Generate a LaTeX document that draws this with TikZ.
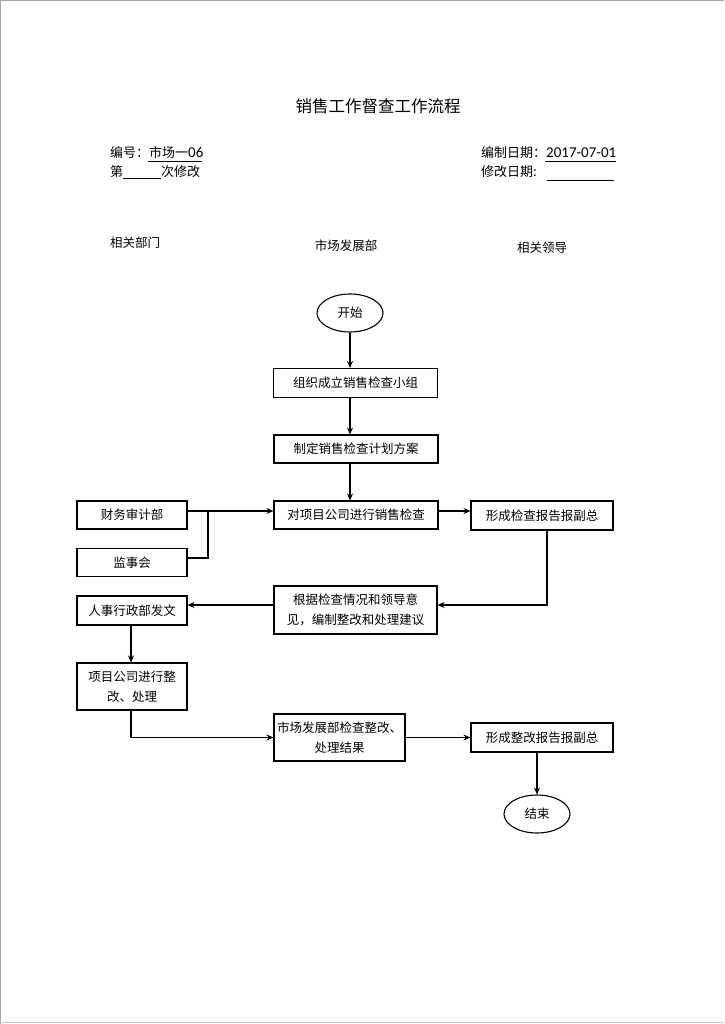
\documentclass[tikz,border=0pt]{standalone}
\usepackage{fontspec}
\setmainfont{Carlito}
\newfontfamily\cjk{Noto Sans CJK SC}
\usetikzlibrary{arrows.meta,shapes.geometric}
\begin{document}
\begin{tikzpicture}[x=1pt,y=-1pt,
  every node/.style={font=\cjk\fontsize{12.5}{20}\selectfont, inner sep=0pt},
  box/.style={draw, line width=1.1pt, rectangle, align=center},
  term/.style={draw, line width=1.1pt, ellipse, minimum width=66pt, minimum height=38pt},
  conn/.style={line width=1.1pt, -{Stealth[length=7pt,width=6pt]}},
  plainline/.style={line width=1.1pt},
  hdr/.style={font=\cjk\fontsize{13}{16}\selectfont, anchor=west}
]
\useasboundingbox (0,0) rectangle (724,1024);
\fill[white] (0,0) rectangle (724,1024);
\draw[gray!70, line width=1pt] (0.5,1024) -- (0.5,0.5) -- (724,0.5);
\draw[gray!45, line width=1pt] (0,1022.5) -- (724,1022.5);

% title and header
\node[font=\cjk\fontsize{16.5}{20}\selectfont] (title) at (378,106) {销售工作督查工作流程};
\node[hdr] (bh) at (110,153) {编号：市场一{\rmfamily\fontsize{15}{16}\selectfont 06}};
\draw[line width=0.7pt] (148,161.5) -- (202,161.5);
\node[hdr] (xg) at (110,172) {第\rule[-2.5pt]{38pt}{0.7pt}次修改};
\node[hdr] (bz) at (481,153) {编制日期：{\rmfamily\fontsize{15}{16}\selectfont 2017-07-01}};
\draw[line width=0.7pt] (545,161.5) -- (616,161.5);
\node[hdr] (xr) at (481,172) {修改日期:};
\draw[line width=0.7pt] (547,180.5) -- (614,180.5);

% lane headers
\node (h1) at (135,243) {相关部门};
\node (h2) at (346,246) {市场发展部};
\node (h3) at (542,248) {相关领导};

% nodes
\node[term] (start) at (350,313) {开始};
\node[box, minimum width=164pt, minimum height=29pt] (b1) at (355.5,383) {组织成立销售检查小组};
\node[box, minimum width=164pt, minimum height=28pt] (b2) at (356,449) {制定销售检查计划方案};
\node[box, minimum width=164pt, minimum height=28pt] (b3) at (356,515) {对项目公司进行销售检查};
\node[box, minimum width=110pt, minimum height=28pt] (cw) at (132,515) {财务审计部};
\node[box, minimum width=110pt, minimum height=28pt] (js) at (132,562.5) {监事会};
\node[box, minimum width=142pt, minimum height=29pt] (r1) at (542,515.5) {形成检查报告报副总};
\node[box, minimum width=163pt, minimum height=48pt] (b4) at (355.5,610) {根据检查情况和领导意\\见，编制整改和处理建议};
\node[box, minimum width=110pt, minimum height=29pt] (l3) at (132,610.5) {人事行政部发文};
\node[box, minimum width=110pt, minimum height=47pt] (l4) at (132,686.5) {项目公司进行整\\改、处理};
\node[box, minimum width=131pt, minimum height=47pt] (b5) at (339.5,737.5) {市场发展部检查整改、\\处理结果};
\node[box, minimum width=142pt, minimum height=29pt] (r2) at (542,737.5) {形成整改报告报副总};
\node[term] (end) at (537,814) {结束};

\coordinate (jn) at (208,511);

% connectors
\draw[conn] (start) -- (start |- b1.north);
\draw[conn] (start |- b1.south) -- (start |- b2.north);
\draw[conn] (start |- b2.south) -- (start |- b3.north);
\draw[conn] ([yshift=4pt]cw.east) -- ([yshift=4pt]b3.west);
\draw[plainline] ([yshift=4.5pt]js.east) -| (jn);
\draw[conn] ([yshift=4pt]b3.east) -- ([yshift=4.5pt]r1.west);
\draw[conn] ([xshift=5pt]r1.south) |- ([yshift=5pt]b4.east);
\draw[conn] ([yshift=5pt]b4.west) -- ([yshift=5.5pt]l3.east);
\draw[conn] ([xshift=-1pt]l3.south) -- ([xshift=-1pt]l4.north);
\draw[conn] ([xshift=-1pt]l4.south) |- (b5.west);
\draw[conn] (b5.east) -- (r2.west);
\draw[conn] ([xshift=-5pt]r2.south) -- (end.north);
\end{tikzpicture}
\end{document}
